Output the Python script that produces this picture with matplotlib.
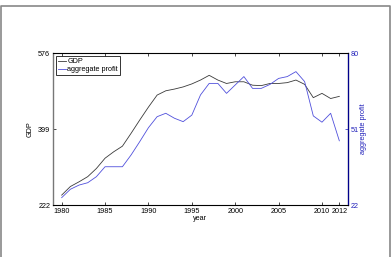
import matplotlib
matplotlib.use('Agg')
import matplotlib.pyplot as plt
from matplotlib.lines import Line2D

plt.rcParams['font.family'] = ['Liberation Sans', 'DejaVu Sans']

# data
years = list(range(1980, 2013))
gdp = [245, 265, 276, 288, 307, 331, 346, 359, 389, 420,
       450, 478, 488, 492, 497, 504, 513, 524, 513, 505,
       509, 509, 501, 500, 505, 505, 507, 513, 503, 472,
       482, 470, 475]
profit = [24.8, 28.0, 29.6, 30.5, 32.8, 36.6, 36.6, 36.6, 41.1, 46.2,
          51.5, 55.7, 57.0, 55.1, 53.8, 56.3, 64.0, 68.4, 68.4, 64.6,
          67.8, 71.0, 66.5, 66.5, 68.0, 70.3, 71.0, 72.9, 69.1, 56.0,
          53.6, 57.0, 46.5]
xticks = [1980, 1985, 1990, 1995, 2000, 2005, 2010, 2012]
gdp_ticks = [222, 399, 576]
profit_ticks = [22, 51, 80]

fs = 5.2
fig = plt.figure(figsize=(3.91, 2.57), dpi=100)

# grey frame around the figure (open at the bottom)
W, H = 391.0, 257.0
fx = [0.8 / W, 0.8 / W, 389.5 / W, 389.5 / W]
fy = [-0.05, 1 - 5.5 / H, 1 - 5.5 / H, -0.05]
fig.lines.append(Line2D(fx, fy, transform=fig.transFigure, color='#888888',
                        linewidth=1.2))

ax1 = fig.add_axes([53 / W, 1 - 205 / H, 295 / W, 152 / H])
l1, = ax1.plot(years, gdp, color='#3a3a3a', linewidth=0.6, label='GDP')
ax1.set_xlim(1979, 2013)
ax1.set_ylim(222, 576)
ax1.set_xticks(xticks)
ax1.set_yticks(gdp_ticks)
ax1.tick_params(direction='in', length=2, width=0.5, labelsize=fs, pad=2,
                top=True)
ax1.set_xlabel('year', fontsize=fs, labelpad=0)
ax1.set_ylabel('GDP', fontsize=fs, labelpad=3)
for s in ['top', 'bottom']:
    ax1.spines[s].set_linewidth(0.7)
ax1.spines['left'].set_color('#777777')
ax1.spines['left'].set_linewidth(1.0)

ax2 = ax1.twinx()
l2, = ax2.plot(years, profit, color='#5050dc', linewidth=0.6, label='aggregate profit')
ax2.set_ylim(22, 80)
ax2.set_yticks(profit_ticks)
ax2.tick_params(direction='in', length=2, width=0.5, labelsize=fs, pad=2,
                colors='#2222bb')
ax2.set_ylabel('aggregate profit', fontsize=fs, color='#2222bb', labelpad=1)
ax2.spines['right'].set_color('#00008b')
ax2.spines['right'].set_linewidth(0.9)
ax2.spines['left'].set_visible(False)

leg = ax1.legend(handles=[l1, l2], loc='upper left', fontsize=fs,
                 handlelength=1.1, handletextpad=0.2, borderpad=0.3,
                 labelspacing=0.15, borderaxespad=0.4, fancybox=False)
leg.get_frame().set_edgecolor('black')
leg.get_frame().set_linewidth(0.7)

fig.savefig('out.png', dpi=100)
